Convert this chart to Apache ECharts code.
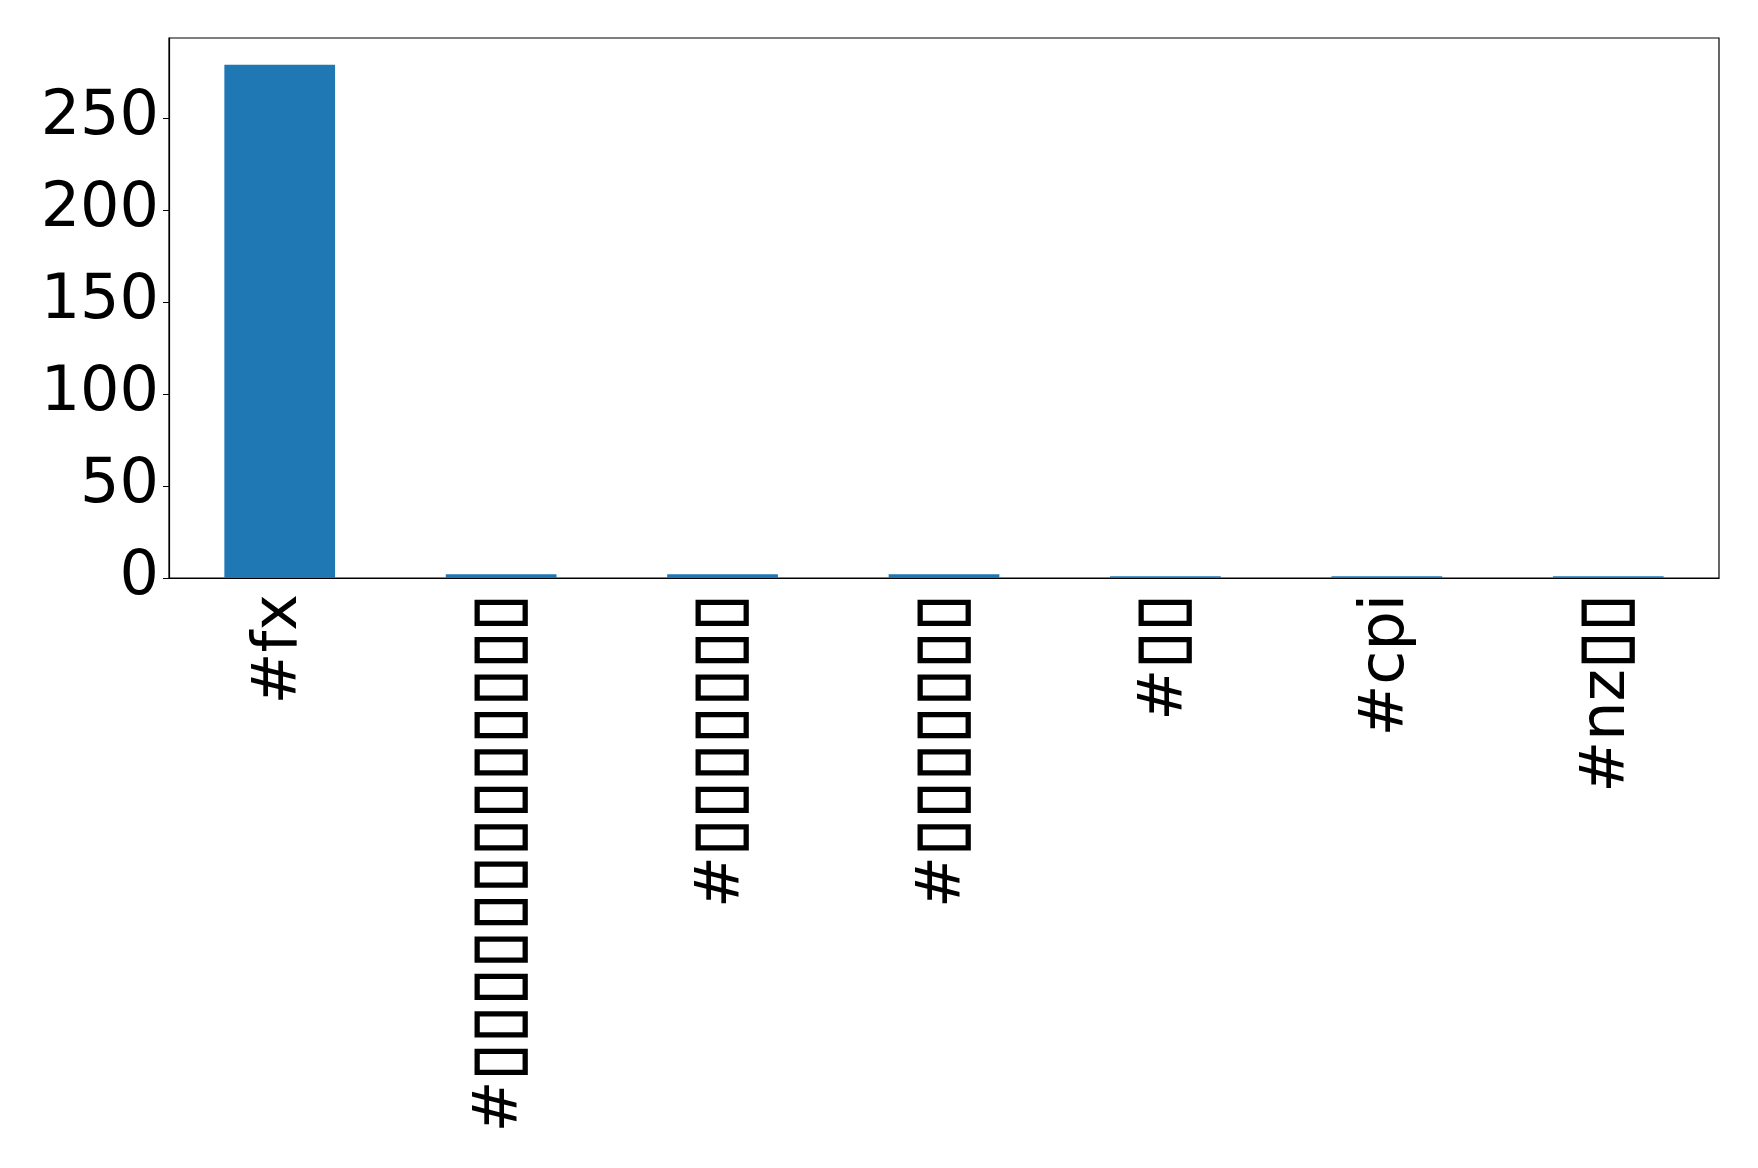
<!DOCTYPE html>
<html>
<head>
<meta charset="utf-8">
<script src="https://cdn.jsdelivr.net/npm/echarts@6/dist/echarts.min.js"></script>
<style>html,body{margin:0;padding:0;background:#fff}#c{width:1758px;height:1168px}</style>
</head>
<body>
<div id="c"></div>
<script>
const categories = ['#fx', '#▯▯▯▯▯▯▯▯▯▯▯▯▯', '#▯▯▯▯▯▯▯', '#▯▯▯▯▯▯▯', '#▯▯', '#cpi', '#nz▯▯'];
const values = [279, 2, 2, 2, 1, 1, 1];
const yTicks = [0, 50, 100, 150, 200, 250];

const chart = echarts.init(document.getElementById('c'), null, {renderer: 'canvas'});
chart.setOption({
  animation: false,
  backgroundColor: '#fff',
  grid: {left: 169, top: 38, right: 39, bottom: 590, show: true, borderColor: '#000', borderWidth: 1.2, containLabel: false},
  xAxis: {
    type: 'category',
    data: categories,
    axisLine: {lineStyle: {color: '#000', width: 1.2}},
    axisTick: {alignWithLabel: true, length: 6, lineStyle: {color: '#000'}},
    axisLabel: {
      rotate: 90, margin: 16, color: '#000', fontSize: 62, fontFamily: 'DejaVu Sans',
      interval: 0,
      formatter: v => v.replace(/(▯+)/g, '{b|$1}'),
      rich: {b: {fontSize: 68, fontFamily: 'DejaVu Sans', color: '#000', textBorderColor: '#000', textBorderWidth: 1.5}}
    }
  },
  yAxis: {
    type: 'value', min: 0, max: 293.5, interval: 50,
    axisLine: {show: true, lineStyle: {color: '#000', width: 1.2}},
    axisTick: {show: true, length: 6, lineStyle: {color: '#000'}, customValues: yTicks},
    splitLine: {show: false},
    axisLabel: {
      margin: 10, color: '#000', fontSize: 62, fontFamily: 'DejaVu Sans',
      customValues: yTicks
    }
  },
  series: [{
    type: 'bar', data: values, barWidth: '50%',
    itemStyle: {color: '#1f77b4'}
  }]
});
</script>
</body>
</html>
